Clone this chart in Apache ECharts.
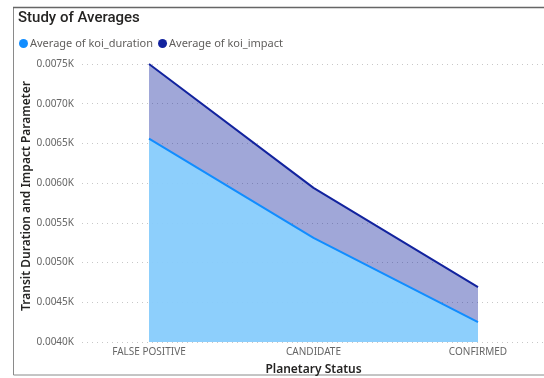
<!DOCTYPE html>
<html><head><meta charset="utf-8">
<script src="https://cdn.jsdelivr.net/npm/echarts@6/dist/echarts.min.js"></script>
<style>html,body{margin:0;padding:0;background:#fff;}#c{width:544px;height:378px;}</style>
</head><body><div id="c"></div>
<script>
const categories = ['FALSE POSITIVE', 'CANDIDATE', 'CONFIRMED'];
const koiDuration = [6.56, 5.31, 4.25];
const koiImpact = [7.50, 5.94, 4.69];
const yMin = 4.0, yMax = 7.5, yStep = 0.5;
const seriesNames = ['Average of koi_duration', 'Average of koi_impact'];
const titleText = 'Study of Averages';
const yName = 'Transit Duration and Impact Parameter';
const xName = 'Planetary Status';

const FONT = '"Noto Sans", "Open Sans", sans-serif';
const chart = echarts.init(document.getElementById('c'), null, {renderer: 'canvas'});
const gTop = 64, gBottom = 36;
chart.setOption({
  animation: false,
  textStyle: {fontFamily: FONT},
  graphic: [
    {type: 'rect', shape: {x: 13.5, y: 7.5, width: 600, height: 367.5}, style: {fill: 'none', stroke: '#8a8a8a', lineWidth: 1}, z: 0},
    {type: 'line', shape: {x1: 13, y1: 7.5, x2: 544, y2: 7.5}, style: {stroke: '#666', lineWidth: 1.5}, z: 1}
  ],
  title: {text: titleText, left: 13, top: 6, textStyle: {fontFamily: 'Roboto, sans-serif', fontSize: 15, fontWeight: 500, color: '#252423'}},
  legend: {
    data: seriesNames, left: 14, top: 33, icon: 'circle', itemWidth: 9, itemHeight: 9, itemGap: 5,
    textStyle: {fontFamily: FONT, fontSize: 11, color: '#605E5C', padding: [0, 0, 0, -3]}
  },
  grid: [
    {left: 82, right: 0, top: gTop, bottom: gBottom, containLabel: false, outerBoundsMode: 'none'},
    {left: 149, right: 66, top: gTop, bottom: gBottom, containLabel: false, outerBoundsMode: 'none'}
  ],
  xAxis: [
    {gridIndex: 0, type: 'value', min: 0, max: 1, show: false},
    {gridIndex: 1, type: 'category', data: categories, boundaryGap: false,
     axisLine: {show: false}, axisTick: {show: false},
     axisLabel: {color: '#666', fontSize: 10, margin: 5, fontFamily: FONT},
     name: xName, nameLocation: 'middle', nameGap: 22, nameMoveOverlap: false,
     nameTextStyle: {color: '#252423', fontSize: 12, fontWeight: 600, fontFamily: FONT}}
  ],
  yAxis: [
    {gridIndex: 0, type: 'value', min: yMin, max: yMax, interval: yStep,
     axisLine: {show: false}, axisTick: {show: false},
     axisLabel: {color: '#666', fontSize: 10, margin: 8, fontFamily: FONT,
       formatter: v => (v / 1000).toFixed(4) + 'K'},
     splitLine: {lineStyle: {color: '#c8c8c8', type: [1, 4], width: 1}},
     name: yName, nameLocation: 'middle', nameGap: 49, nameRotate: 90, nameMoveOverlap: false,
     nameTextStyle: {color: '#252423', fontSize: 12, fontWeight: 600, fontFamily: FONT, padding: [0, 0, 0, 14]}},
    {gridIndex: 1, type: 'value', min: yMin, max: yMax, interval: yStep, show: false, splitLine: {show: false}}
  ],
  series: [
    {name: seriesNames[1], type: 'line', xAxisIndex: 1, yAxisIndex: 1, data: koiImpact,
     showSymbol: false, z: 2, color: '#12239E',
     lineStyle: {color: '#12239E', width: 2},
     areaStyle: {color: '#12239E', opacity: 0.4}},
    {name: seriesNames[0], type: 'line', xAxisIndex: 1, yAxisIndex: 1, data: koiDuration,
     showSymbol: false, z: 3, color: '#118DFF',
     lineStyle: {color: '#118DFF', width: 2},
     areaStyle: {color: '#8CD2FF', opacity: 0.92}}
  ]
});
</script></body></html>
